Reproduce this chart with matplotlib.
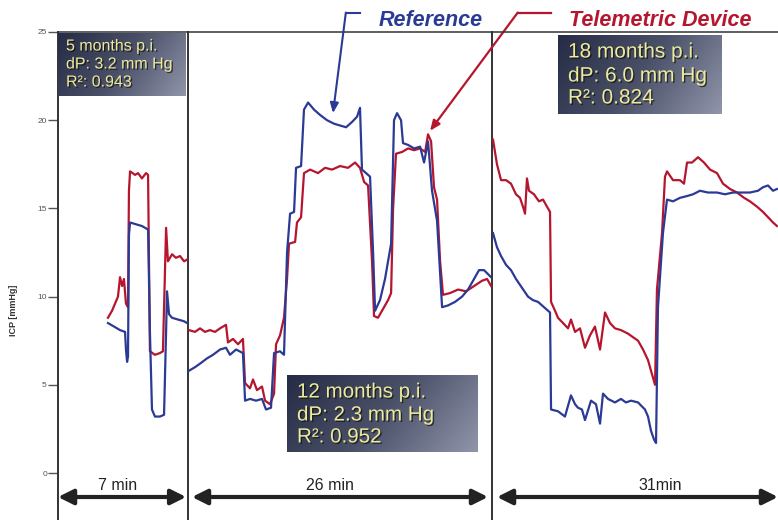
import numpy as np
import matplotlib
matplotlib.use("Agg")
import matplotlib.pyplot as plt
import matplotlib.patheffects as pe
from matplotlib.colors import LinearSegmentedColormap

plt.rcParams['font.family'] = ['Liberation Sans', 'DejaVu Sans']

# ICP traces, time in minutes from the start of each recording
t1_ref = [2.69, 3.02, 3.34, 3.61, 3.66, 3.72, 3.77, 3.82, 3.88, 4.20, 4.52, 4.85,
          4.95, 5.06, 5.22, 5.49, 5.71, 5.82, 5.87, 5.98, 6.14, 6.46, 6.79, 6.95]
p1_ref = [8.5, 8.3, 8.1, 8.0, 7.0, 6.3, 6.6, 13.5, 14.2, 14.1, 14.0, 13.8,
          8.0, 3.6, 3.2, 3.2, 3.3, 8.0, 10.3, 9.0, 8.8, 8.7, 8.6, 8.5]
t1_tel = [2.69, 2.91, 3.07, 3.23, 3.34, 3.45, 3.55, 3.66, 3.77, 3.82, 3.88, 4.15,
          4.31, 4.52, 4.74, 4.85, 4.95, 5.22, 5.49, 5.65, 5.82, 5.92, 6.14, 6.35,
          6.57, 6.79, 6.95]
p1_tel = [8.8, 9.2, 9.6, 10.0, 11.1, 10.6, 11.0, 9.6, 9.4, 16.0, 17.1, 16.9,
          17.0, 16.7, 17.0, 16.9, 6.9, 6.7, 6.8, 6.9, 13.9, 12.0, 12.4, 12.2,
          12.3, 12.0, 12.1]

t2_ref = [0.09, 0.60, 1.03, 1.63, 2.14, 2.74, 3.25, 3.59, 4.11, 4.70, 4.88, 5.30,
          5.82, 6.33, 6.67, 7.10, 7.36, 7.87, 8.21, 8.47, 8.73, 9.07, 9.24, 9.67,
          9.92, 10.27, 10.78, 11.29, 11.89, 12.49, 13.00, 13.52, 14.03, 14.46,
          14.71, 14.88, 15.23, 15.57, 15.83, 16.00, 16.42, 16.85, 17.11, 17.37,
          17.62, 17.88, 18.22, 18.39, 18.82, 19.34, 19.85, 20.19, 20.53, 20.87,
          21.30, 21.73, 22.24, 22.84, 23.44, 23.95, 24.38, 24.89, 25.32, 25.92]
p2_ref = [5.8, 6.0, 6.2, 6.5, 6.7, 7.0, 7.1, 6.7, 7.0, 6.8, 4.1, 4.2,
          4.1, 4.2, 3.6, 3.7, 6.8, 6.9, 6.7, 12.5, 14.7, 14.8, 17.3, 17.4,
          20.6, 21.0, 20.6, 20.3, 20.0, 19.8, 19.7, 19.6, 19.9, 20.2,
          20.7, 17.2, 17.0, 16.8, 12.5, 9.2, 9.8, 11.0, 12.0, 13.0,
          20.0, 20.4, 20.0, 18.7, 18.6, 18.4, 18.5, 17.6, 18.8, 16.0,
          14.3, 9.4, 9.5, 9.7, 10.0, 10.4, 10.9, 11.5, 11.5, 11.1]
t2_tel = [0.09, 0.60, 1.03, 1.45, 1.88, 2.31, 2.74, 3.25, 3.42, 3.85, 4.28, 4.70,
          4.88, 5.30, 5.56, 5.90, 6.33, 6.59, 7.01, 7.36, 7.53, 7.87, 8.21, 8.47,
          8.64, 9.16, 9.32, 9.67, 9.92, 10.44, 11.12, 11.72, 12.32, 13.00, 13.69,
          14.29, 14.71, 15.06, 15.40, 15.74, 15.91, 16.25, 16.68, 17.11, 17.37,
          17.54, 17.79, 18.31, 18.82, 19.34, 19.85, 20.28, 20.53, 20.79, 21.04,
          21.30, 21.56, 21.81, 22.41, 23.10, 23.78, 24.47, 25.15, 25.58, 25.92]
p2_tel = [8.1, 8.0, 8.2, 8.0, 8.1, 8.0, 8.2, 8.4, 7.4, 7.6, 7.3, 7.6,
          5.1, 4.8, 5.3, 4.7, 4.9, 4.1, 3.9, 4.5, 7.3, 7.8, 8.8, 11.0,
          13.0, 13.1, 14.2, 14.5, 17.0, 17.2, 17.0, 17.3, 17.2, 17.4, 17.3,
          17.6, 17.3, 16.5, 16.3, 12.0, 8.9, 8.8, 9.3, 9.8, 10.2,
          15.0, 18.1, 18.2, 18.4, 18.3, 18.4, 18.2, 19.2, 18.8, 16.2,
          15.5, 12.0, 10.1, 10.2, 10.4, 10.3, 10.6, 10.9, 11.0, 10.6]

t3_ref = [0.11, 0.54, 0.98, 1.52, 2.06, 2.60, 3.25, 3.90, 4.44, 4.99, 5.64, 6.29,
          6.40, 7.15, 7.91, 8.56, 9.00, 9.32, 9.75, 10.08, 10.73, 11.27, 11.71,
          12.03, 12.57, 13.33, 13.98, 14.52, 15.07, 15.83, 16.58, 16.91, 17.23,
          17.56, 17.78, 17.99, 18.53, 18.97, 19.62, 20.38, 21.14, 21.79, 22.54,
          23.41, 24.39, 25.25, 26.12, 26.99, 27.96, 28.83, 29.37, 29.92, 30.46,
          30.89]
p3_ref = [13.6, 12.8, 12.3, 11.8, 11.5, 11.0, 10.5, 10.0, 9.8, 9.7, 9.4, 9.1,
          3.6, 3.5, 3.2, 4.4, 3.9, 3.7, 3.6, 3.0, 4.1, 3.9, 2.8,
          4.5, 4.2, 4.0, 4.2, 4.0, 4.1, 4.0, 3.6, 3.2, 2.4,
          1.9, 1.7, 9.4, 13.6, 15.5, 15.4, 15.6, 15.7, 15.8, 16.0,
          15.9, 15.9, 15.8, 15.9, 15.9, 15.9, 16.0, 16.2, 16.3, 16.0,
          16.1]
t3_tel = [0.11, 0.54, 0.98, 1.52, 2.06, 2.60, 3.03, 3.36, 3.58, 3.79, 4.01, 4.55,
          5.09, 5.53, 6.07, 6.29, 6.40, 6.83, 7.15, 7.70, 8.24, 8.56, 9.00, 9.54,
          10.08, 10.62, 11.16, 11.71, 12.25, 12.79, 13.33, 13.98, 14.74, 15.28,
          15.83, 16.37, 16.91, 17.34, 17.67, 17.88, 18.43, 18.75, 18.97, 19.62,
          20.38, 20.81, 21.14, 21.68, 22.33, 22.98, 23.63, 24.39, 25.04, 25.80,
          26.56, 27.32, 27.96, 28.72, 29.37, 29.92, 30.46, 30.89]
p3_tel = [18.9, 17.5, 16.6, 16.6, 16.4, 15.8, 15.6, 15.1, 14.7, 16.7, 16.0, 15.8,
          15.4, 15.5, 15.0, 14.8, 9.7, 9.2, 8.8, 8.5, 8.2, 8.7, 8.0, 8.2,
          7.1, 7.8, 8.3, 7.0, 9.1, 8.5, 8.2, 8.1, 7.9, 7.7,
          7.5, 7.0, 6.4, 5.6, 5.0, 10.4, 13.6, 16.8, 17.1, 16.6,
          16.6, 16.4, 17.6, 17.6, 17.9, 17.6, 17.2, 17.0, 16.4, 16.1,
          15.9, 15.6, 15.4, 15.1, 14.8, 14.5, 14.2, 14.0]

durations = [7, 26, 31]
duration_labels = ["7 min", "26 min", "31min"]
box_lines = [["5 months p.i.", "dP: 3.2 mm Hg", "R²: 0.943"],
             ["12 months p.i.", "dP: 2.3 mm Hg", "R²: 0.952"],
             ["18 months p.i.", "dP: 6.0 mm Hg", "R²: 0.824"]]
yticks = [0, 5, 10, 15, 20, 25]

REF_C = '#2b3a94'
TEL_C = '#b5162e'
W, H = 778, 520


def fx(x):
    return x / W


def fy(y):
    return 1 - y / H


fig = plt.figure(figsize=(W / 100, H / 100), dpi=100)
fig.patch.set_facecolor('white')

ylo = -(520 - 473) / 17.64
edges = [58, 188, 492, 778]
axes = []
for i in range(3):
    ax = fig.add_axes([fx(edges[i]), 0, fx(edges[i + 1] - edges[i]), fy(32)])
    ax.set_xlim(0, durations[i])
    ax.set_ylim(ylo, 25)
    ax.set_xticks([])
    ax.spines['bottom'].set_visible(False)
    ax.spines['left'].set_visible(i == 0)
    ax.spines['right'].set_visible(i < 2)
    for s in ['top', 'left', 'right']:
        ax.spines[s].set_color('#333333')
        ax.spines[s].set_linewidth(1.4)
    ax.spines['top'].set_linewidth(1.1)
    if i == 0:
        ax.set_yticks(yticks)
        ax.tick_params(axis='y', length=7, width=1, color='#555555',
                       labelsize=6, labelcolor='#555555', pad=1)
        ax.set_ylabel('ICP [mmHg]', fontsize=6.5, fontweight='bold',
                      color='#333333')
        ax.yaxis.set_label_coords(-0.31, 0.43)
    else:
        ax.set_yticks([])
    ax.patch.set_alpha(0)
    axes.append(ax)

series = [(t1_ref, p1_ref, t1_tel, p1_tel),
          (t2_ref, p2_ref, t2_tel, p2_tel),
          (t3_ref, p3_ref, t3_tel, p3_tel)]
for ax, (tr, pr, tt, pt) in zip(axes, series):
    ax.plot(tt, pt, color=TEL_C, lw=1.6, zorder=3)
    ax.plot(tr, pr, color=REF_C, lw=1.6, zorder=4)

# duration arrows under each recording
arrow_y = -(497 - 473) / 17.64
label_y = -(486 - 473) / 17.64
spans = [(0.0, 6.9), (0.34, 25.66), (0.54, 31.0)]
label_x = [3.23, 12.15, 18.2]
for ax, (a, b), lx, lab in zip(axes, spans, label_x, duration_labels):
    ax.annotate('', xy=(a, arrow_y), xytext=(b, arrow_y),
                arrowprops=dict(arrowstyle='<|-|>,head_length=0.9,head_width=0.45',
                                lw=3, color='#222222', shrinkA=0, shrinkB=0),
                annotation_clip=False)
    ax.text(lx, label_y, lab, ha='center', va='center', fontsize=11.5, color='#222222')

# callout arrows
ax2 = axes[1]
ax2.plot([13.5, 14.7], [26.1, 26.1], color=REF_C, lw=1.5, clip_on=False)
ax2.annotate('', xy=(12.4, 20.4), xytext=(13.5, 26.1),
             arrowprops=dict(arrowstyle='-|>,head_length=0.6,head_width=0.25',
                             lw=1.5, color=REF_C, shrinkA=0, shrinkB=0),
             annotation_clip=False)
ax2.plot([28.2, 31.05], [26.1, 26.1], color=TEL_C, lw=1.6, clip_on=False)
ax2.annotate('', xy=(20.7, 19.4), xytext=(28.2, 26.1),
             arrowprops=dict(arrowstyle='-|>,head_length=0.6,head_width=0.25',
                             lw=1.6, color=TEL_C, shrinkA=0, shrinkB=0),
             annotation_clip=False)
fig.text(fx(431), fy(20), 'Reference', ha='center', va='center', fontsize=15.5,
         fontweight='bold', fontstyle='italic', color=REF_C)
fig.text(fx(660), fy(20), 'Telemetric Device', ha='center', va='center',
         fontsize=15.5, fontweight='bold', fontstyle='italic', color=TEL_C)

# info boxes with gradient fill
cmap = LinearSegmentedColormap.from_list('box', ['#262c45', '#4a5068', '#9095aa'])
gx, gy = np.meshgrid(np.linspace(0, 1, 200), np.linspace(0, 1, 60))
grad = 0.75 * gx + 0.25 * gy
boxes = [(58, 33, 186, 96, 11.5, [46, 64, 82], 66),
         (287, 375, 478, 452, 14.8, [392, 415, 437], 297),
         (558, 35, 722, 114, 15, [52, 76, 98], 568)]
for (x0, y0, x1, y1, fs, ly, tx), lines in zip(boxes, box_lines):
    bax = fig.add_axes([fx(x0), fy(y1), fx(x1 - x0), fy(y0) - fy(y1)])
    bax.imshow(grad, cmap=cmap, aspect='auto', origin='upper', extent=[0, 1, 1, 0])
    bax.axis('off')
    for yy, s in zip(ly, lines):
        fig.text(fx(tx), fy(yy), s, ha='left', va='center', fontsize=fs,
                 color='#ecea9c', zorder=10,
                 path_effects=[pe.withSimplePatchShadow(offset=(1, -1),
                                                         shadow_rgbFace='#111111', alpha=0.7)])

fig.savefig('out.png', dpi=100)
